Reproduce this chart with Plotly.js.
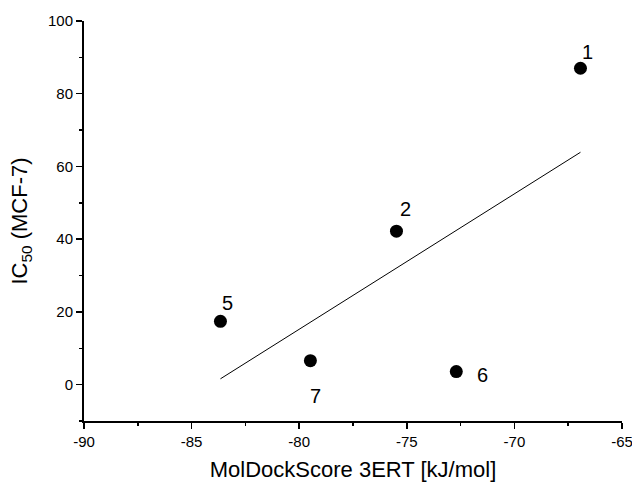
<!DOCTYPE html>
<html>
<head>
<meta charset="utf-8">
<script src="https://cdn.plot.ly/plotly-3.0.1.min.js"></script>
<style>html,body{margin:0;padding:0;background:#fff;}#chart{width:632px;height:483px;}</style>
</head>
<body>
<div id="chart"></div>
<script>
// Data
const compoundLabels = ['1', '2', '5', '7', '6'];
const dockScore = [-66.93, -75.48, -83.66, -79.48, -72.70];
const ic50 = [87.0, 42.2, 17.4, 6.6, 3.6];

// Linear fit line endpoints (as drawn)
const fitX = [-83.66, -66.93];
const fitY = [1.6, 63.9];

// Tick labels (short hyphen, as in the reference)
const xTickVals = [-90, -85, -80, -75, -70, -65];
const xTickText = ['\u201090', '\u201085', '\u201080', '\u201075', '\u201070', '\u201065'];
const yTickVals = [0, 20, 40, 60, 80, 100];
const yTickText = ['0', '20', '40', '60', '80', '100'];

// label offsets (pixels) per point: style only
const labelShiftX = [7, 9, 7, 5, 26];
const labelShiftY = [16, 22, 18, -35, -3];

const FONT = 'Arial, "Liberation Sans", sans-serif';

const traces = [
  {
    x: fitX, y: fitY, type: 'scatter', mode: 'lines',
    line: {color: '#000', width: 1}, hoverinfo: 'skip', showlegend: false
  },
  {
    x: dockScore, y: ic50, type: 'scatter', mode: 'markers',
    marker: {color: '#000', size: 13}, showlegend: false
  }
];

const annotations = compoundLabels.map((t, i) => ({
  x: dockScore[i], y: ic50[i], xref: 'x', yref: 'y',
  text: t, showarrow: false,
  xshift: labelShiftX[i], yshift: labelShiftY[i],
  font: {family: FONT, size: 20, color: '#000'}
}));

const layout = {
  width: 632, height: 483,
  margin: {l: 84, r: 10, t: 21, b: 62},
  paper_bgcolor: '#fff', plot_bgcolor: '#fff',
  font: {family: FONT, color: '#000'},
  showlegend: false,
  xaxis: {
    range: [xTickVals[0], xTickVals[xTickVals.length - 1]],
    showgrid: false, zeroline: false,
    showline: true, linecolor: '#000', linewidth: 2,
    ticks: 'outside', ticklen: 6, tickwidth: 1.5, tickcolor: '#000',
    tickmode: 'array', tickvals: xTickVals, ticktext: xTickText,
    ticklabeloverflow: 'allow', tickangle: 0,
    tickfont: {family: FONT, size: 15, color: '#000'},
    minor: {dtick: 2.5, ticks: 'outside', ticklen: 3, tickwidth: 1.5, tickcolor: '#000', showgrid: false},
    title: {text: 'MolDockScore 3ERT [kJ/mol]', font: {family: FONT, size: 22, color: '#000'}, standoff: 13},
    fixedrange: true
  },
  yaxis: {
    range: [-10, 100], showgrid: false, zeroline: false,
    showline: true, linecolor: '#000', linewidth: 2,
    ticks: 'outside', ticklen: 6, tickwidth: 1.5, tickcolor: '#000',
    tickmode: 'array', tickvals: yTickVals, ticktext: yTickText,
    ticklabeloverflow: 'allow',
    tickfont: {family: FONT, size: 15, color: '#000'},
    minor: {dtick: 10, tick0: 0, ticks: 'outside', ticklen: 3, tickwidth: 1.5, tickcolor: '#000', showgrid: false},
    title: {text: 'IC<sub>50</sub> (MCF-7)', font: {family: FONT, size: 22, color: '#000'}, standoff: 14},
    fixedrange: true
  },
  annotations: annotations
};

Plotly.newPlot('chart', traces, layout, {displayModeBar: false, staticPlot: true});
</script>
</body>
</html>
